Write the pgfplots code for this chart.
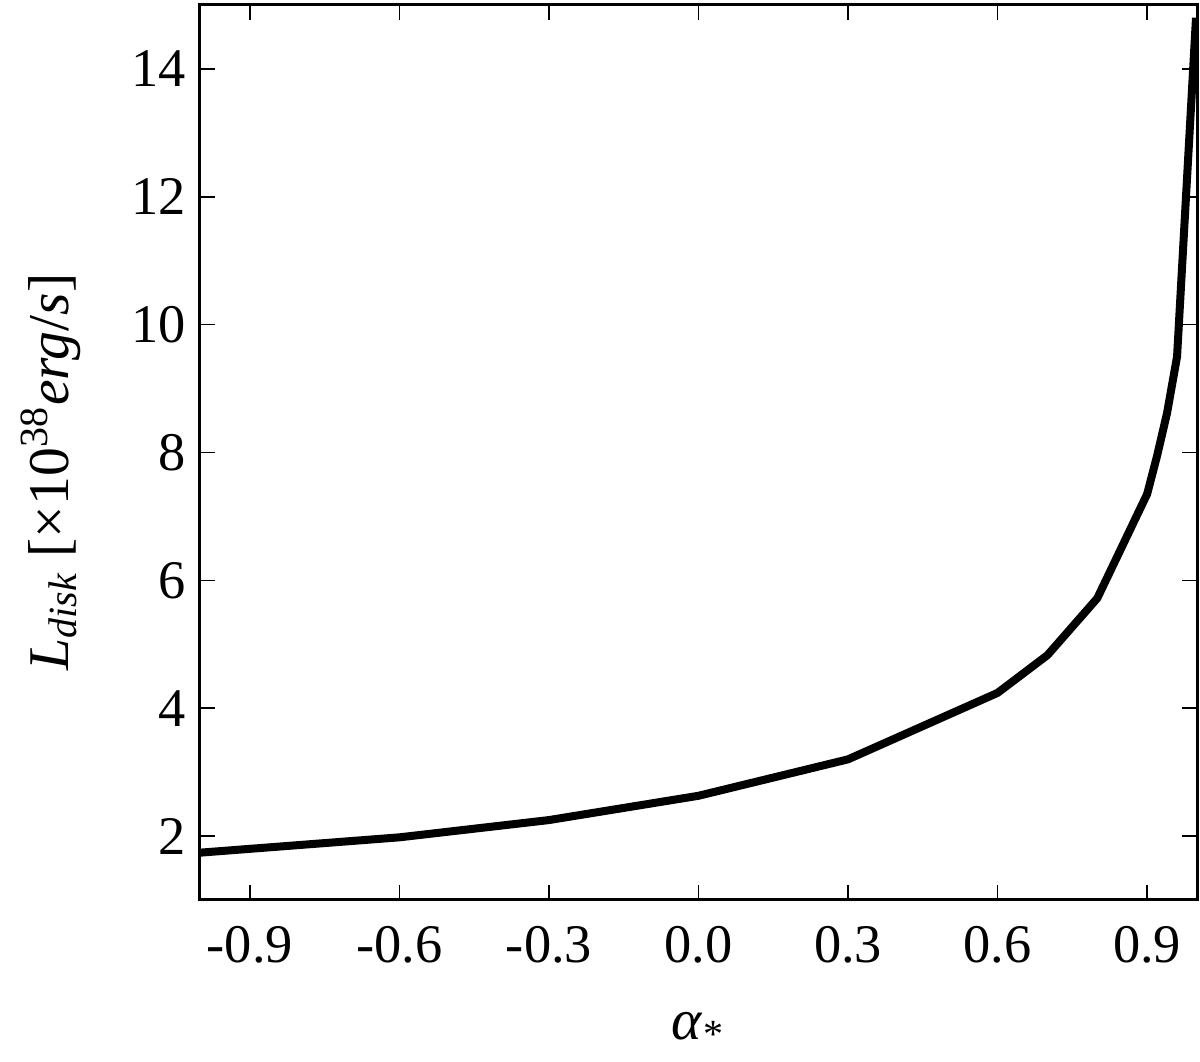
\documentclass[border=0pt]{standalone}
\usepackage{fontspec}
\setmainfont{Liberation Serif}
\usepackage{pgfplots}
\pgfplotsset{compat=1.18}

% disk luminosity against spin
\pgfplotstableread{
a     L
-1.0  1.74
-0.6  1.98
-0.3  2.25
0.0   2.63
0.3   3.20
0.6   4.24
0.7   4.83
0.8   5.72
0.9   7.35
0.92  7.95
0.94  8.62
0.96  9.50
0.998 14.80
}\ldisk

\begin{document}
\begin{tikzpicture}
\begin{axis}[
  scale only axis,
  width=249.25pt, height=223.75pt,
  xmin=-1, xmax=1, ymin=1, ymax=15,
  axis line style={line width=0.75pt},
  tick style={line width=0.4pt, black},
  major tick length=3.75pt,
  tick align=inside,
  xtick={-0.9,-0.6,-0.3,0,0.3,0.6,0.9},
  xticklabels={-0.9,-0.6,-0.3,0.0,0.3,0.6,0.9},
  ytick={2,4,6,8,10,12,14},
  yticklabels={2,4,6,8,10,12,14},
  minor tick num=0,
  tick label style={font=\fontsize{13.6}{16}\selectfont},
  xticklabel style={yshift=-3pt},
  xlabel={\textit{α}\textsubscript{*}},
  ylabel={\textit{L}\textsubscript{\textit{disk}} [×10\textsuperscript{38}\textit{erg}/\textit{s}]},
  label style={font=\fontsize{14.4}{17}\selectfont},
  xlabel style={at={(axis description cs:0.5,-0.145)}, anchor=center},
  ylabel style={at={(axis description cs:-0.150,0.478)}, anchor=center},
]
\addplot[black, line width=2pt, line join=round] table[x=a, y=L] {\ldisk};
\end{axis}
\path (-50pt,-39.25pt) rectangle (250pt,225pt);
\end{tikzpicture}
\end{document}
